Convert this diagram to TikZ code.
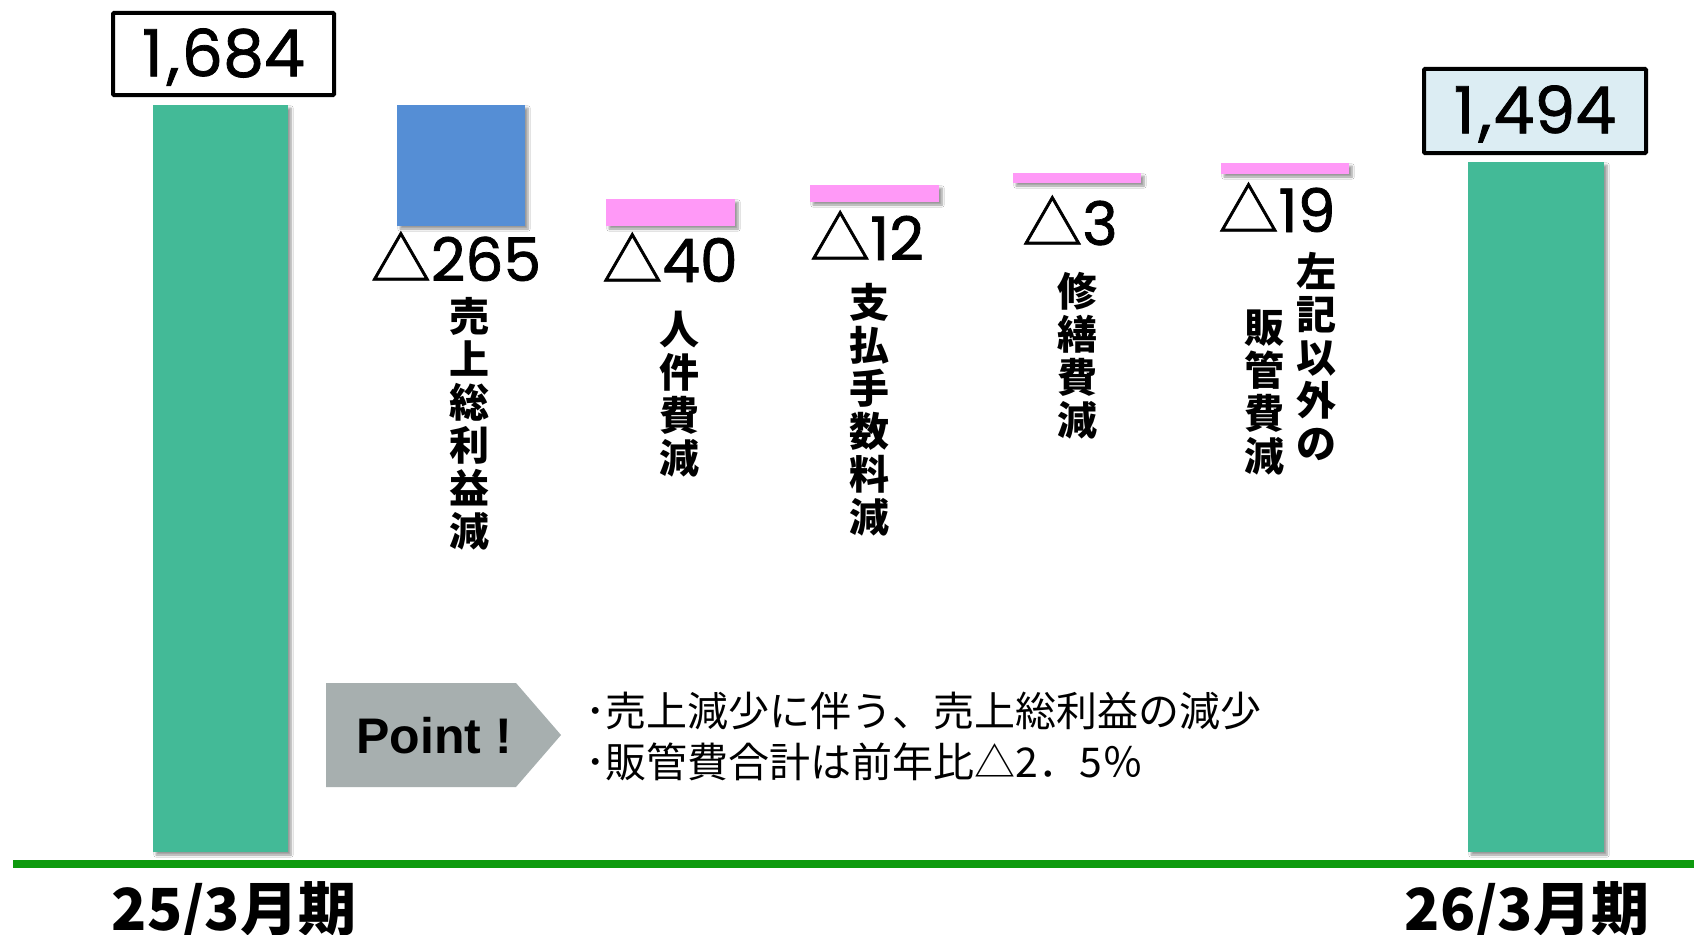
\documentclass[tikz,border=0pt]{standalone}
\usepackage{fontspec}
\setmainfont{Noto Sans CJK JP}
\newfontfamily\ptfont{Liberation Sans}
\newfontfamily\numf{Poppins}[FakeBold=1.2]
\newfontfamily\trif{Noto Sans CJK JP}[FakeBold=1.2]
\usetikzlibrary{shadows.blur}
\definecolor{barG}{HTML}{43BA97}
\definecolor{barB}{HTML}{558ED5}
\definecolor{barP}{HTML}{FF99F7}
\definecolor{axisG}{HTML}{0E9A0E}
\definecolor{ptgray}{HTML}{A7AFAF}
\definecolor{boxblue}{HTML}{DCEDF3}
\tikzset{
  bar/.style={anchor=north west, inner sep=0pt, outer sep=0pt, draw=none,
    blur shadow={shadow xshift=3pt, shadow yshift=-3pt, shadow blur steps=6, shadow opacity=40}},
  valbox/.style={draw=black, line width=4pt, inner sep=0pt, rounded corners=1pt},
  val/.style={anchor=base, inner sep=0pt, text depth=0pt, font=\fontsize{60}{62}\selectfont},
  bigval/.style={anchor=center, inner sep=0pt, font=\numf\fontsize{65}{66}\selectfont},
  vtext/.style={anchor=north, inner sep=0pt, align=center, font=\fontsize{40}{43}\selectfont\bfseries},
  perlabel/.style={anchor=north, inner sep=0pt, font=\fontsize{58}{60}\selectfont\bfseries},
  bulletline/.style={anchor=base west, inner sep=0pt, font=\fontsize{41}{43}\selectfont}
}
\newcommand{\dval}[1]{{\trif △}{\numf #1}}
\begin{document}
\begin{tikzpicture}[x=1pt,y=-1pt]
\useasboundingbox (0,0) rectangle (1694,934);
\fill[white] (0,0) rectangle (1694,934);

% bars
\node[bar, fill=barG, minimum width=135pt, minimum height=747pt] (b1) at (153,105) {};
\node[bar, fill=barB, minimum width=128pt, minimum height=121pt] (sales) at (397,105) {};
\node[bar, fill=barP, minimum width=129pt, minimum height=27pt] (p1) at (606,199) {};
\node[bar, fill=barP, minimum width=129pt, minimum height=17pt] (p2) at (810,185) {};
\node[bar, fill=barP, minimum width=128pt, minimum height=10pt] (p3) at (1013,173) {};
\node[bar, fill=barP, minimum width=128pt, minimum height=11pt] (p4) at (1221,163) {};
\node[bar, fill=barG, minimum width=136pt, minimum height=690pt] (b2) at (1468,162) {};

% axis
\coordinate (axL) at (13,864);
\coordinate (axR) at (1694,864);
\draw[axisG, line width=8pt] (axL) -- (axR);

% value boxes
\node[valbox, fill=white, minimum width=221pt, minimum height=82pt] (v1box) at (223.5,54) {};
\node[bigval] (v1) at (223.5,57) {1\kern4pt,\kern2pt684};
\node[valbox, fill=boxblue, minimum width=222pt, minimum height=84pt] (v2box) at (1535,111) {};
\node[bigval] (v2) at (1535,114) {1\kern4pt,\kern2pt494};

% delta values
\node[val] (d1) at (456,281) {\dval{265}};
\node[val] (d2) at (670,282) {\dval{40}};
\node[val] (d3) at (867,260) {\dval{12}};
\node[val] (d4) at (1070,245) {\dval{3}};
\node[val] (d5) at (1277,232) {\dval{19}};

% vertical labels
\node[vtext] (l1) at (469,297) {売\\上\\総\\利\\益\\減};
\node[vtext] (l2) at (679,311) {人\\件\\費\\減};
\node[vtext] (l3) at (869,283) {支\\払\\手\\数\\料\\減};
\node[vtext] (l4) at (1077,272) {修\\繕\\費\\減};
\node[vtext] (l5) at (1316,252) {左\\記\\以\\外\\の};
\node[vtext] (l6) at (1264,310) {販\\管\\費\\減};

% point arrow
\fill[ptgray] (326,683) -- (516,683) -- (561,735) -- (516,787) -- (326,787) -- cycle;
\node[anchor=base, inner sep=0pt, font=\ptfont\bfseries\fontsize{50}{52}\selectfont] (point) at (434,753) {Point !};

% bullets
\node[bulletline] (t1) at (585,726) {･売上減少に伴う、売上総利益の減少};
\node[bulletline] (t2) at (585,777) {･販管費合計は前年比△2．5％};

% period labels
\node[perlabel] (per1) at (234,881) {25/3月期};
\node[perlabel] (per2) at (1527,881) {26/3月期};
\end{tikzpicture}
\end{document}
